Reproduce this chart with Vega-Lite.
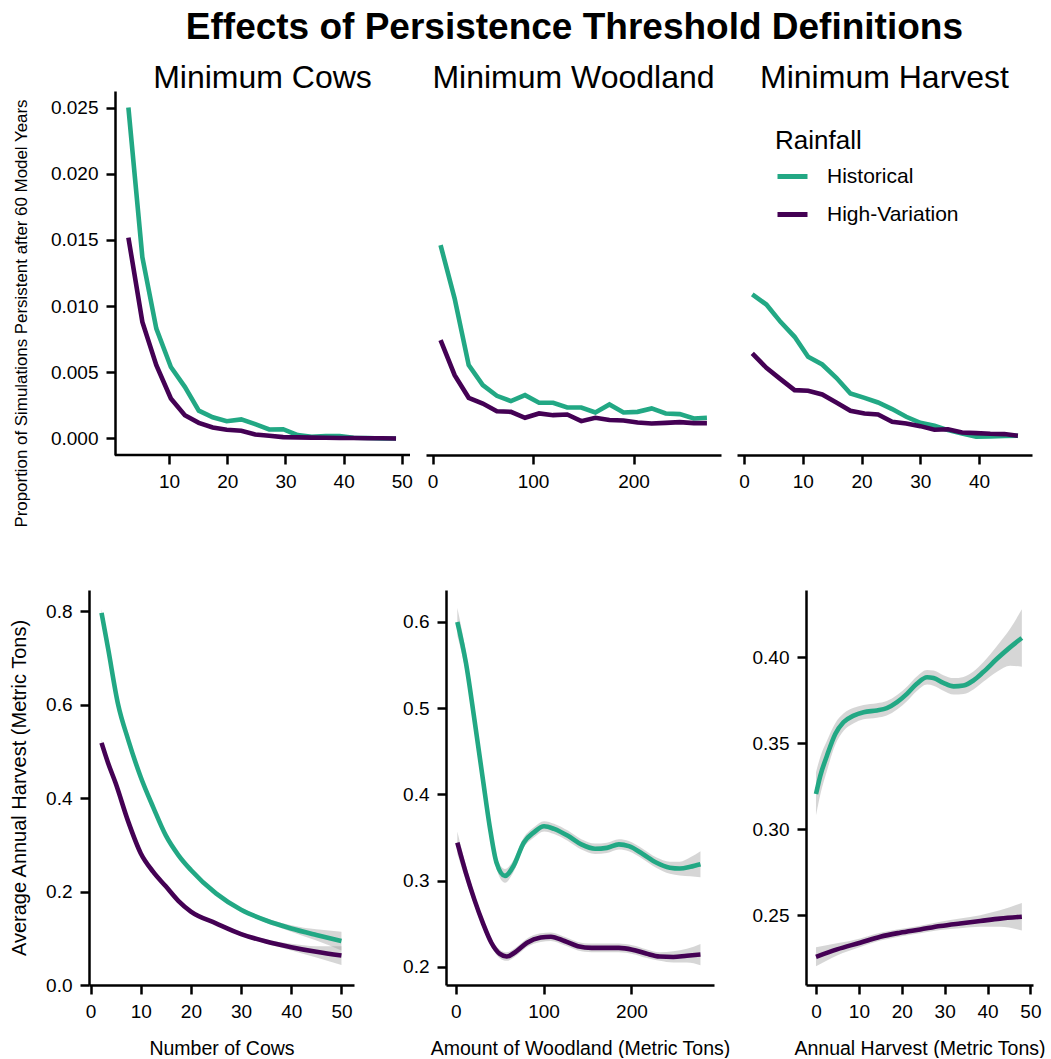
{
  "$schema": "https://vega.github.io/schema/vega-lite/v6.json",
  "padding": {"left": 9, "top": 9, "right": 10, "bottom": 0},
  "title": {"text": "Effects of Persistence Threshold Definitions", "fontSize": 37, "fontWeight": "bold", "anchor": "middle", "dx": 47, "offset": 15, "color": "black", "font": "Liberation Sans"},
  "config": {
    "font": "Liberation Sans",
    "view": {"stroke": null},
    "axis": {"grid": false, "domainColor": "black", "domainWidth": 2.5, "tickColor": "black", "tickWidth": 2.5, "tickSize": 9, "labelColor": "black", "labelFontSize": 19, "titleFontSize": 19.5, "titleFontWeight": "normal", "titleColor": "black", "labelPadding": 8, "labelFlush": false, "labelOverlap": false},
    "axisY": {"titlePadding": 18},
    "axisX": {"titlePadding": 18},
    "legend": {"orient": "none", "legendX": 686, "legendY": 37, "titleFontSize": 26, "titleFontWeight": "normal", "titleColor": "black", "labelFontSize": 21, "labelColor": "black", "symbolType": "stroke", "symbolStrokeWidth": 5, "symbolSize": 900, "labelOffset": 17, "rowPadding": 10, "titlePadding": 5}
  },
  "datasets": {
    "top": [
      {"panel": "cows", "rain": "Historical", "x": 3.0, "y": 0.0250},
      {"panel": "cows", "rain": "Historical", "x": 5.4, "y": 0.0137},
      {"panel": "cows", "rain": "Historical", "x": 7.8, "y": 0.0083},
      {"panel": "cows", "rain": "Historical", "x": 10.3, "y": 0.0054},
      {"panel": "cows", "rain": "Historical", "x": 12.7, "y": 0.0039},
      {"panel": "cows", "rain": "Historical", "x": 15.1, "y": 0.0021},
      {"panel": "cows", "rain": "Historical", "x": 17.5, "y": 0.0016},
      {"panel": "cows", "rain": "Historical", "x": 19.9, "y": 0.0013},
      {"panel": "cows", "rain": "Historical", "x": 22.4, "y": 0.00144},
      {"panel": "cows", "rain": "Historical", "x": 24.8, "y": 0.00108},
      {"panel": "cows", "rain": "Historical", "x": 27.2, "y": 0.00068},
      {"panel": "cows", "rain": "Historical", "x": 29.6, "y": 0.0007},
      {"panel": "cows", "rain": "Historical", "x": 32.1, "y": 0.00025},
      {"panel": "cows", "rain": "Historical", "x": 34.5, "y": 0.00013},
      {"panel": "cows", "rain": "Historical", "x": 36.9, "y": 0.00018},
      {"panel": "cows", "rain": "Historical", "x": 39.3, "y": 0.00018},
      {"panel": "cows", "rain": "Historical", "x": 41.7, "y": 0.00005},
      {"panel": "cows", "rain": "Historical", "x": 44.2, "y": 0.00003},
      {"panel": "cows", "rain": "Historical", "x": 46.6, "y": 0.0},
      {"panel": "cows", "rain": "Historical", "x": 49.0, "y": 0.0},
      {"panel": "cows", "rain": "High-Variation", "x": 3.0, "y": 0.01518},
      {"panel": "cows", "rain": "High-Variation", "x": 5.4, "y": 0.00881},
      {"panel": "cows", "rain": "High-Variation", "x": 7.8, "y": 0.00554},
      {"panel": "cows", "rain": "High-Variation", "x": 10.3, "y": 0.00302},
      {"panel": "cows", "rain": "High-Variation", "x": 12.7, "y": 0.00176},
      {"panel": "cows", "rain": "High-Variation", "x": 15.1, "y": 0.00118},
      {"panel": "cows", "rain": "High-Variation", "x": 17.5, "y": 0.00083},
      {"panel": "cows", "rain": "High-Variation", "x": 19.9, "y": 0.00066},
      {"panel": "cows", "rain": "High-Variation", "x": 22.4, "y": 0.00058},
      {"panel": "cows", "rain": "High-Variation", "x": 24.8, "y": 0.0003},
      {"panel": "cows", "rain": "High-Variation", "x": 27.2, "y": 0.0002},
      {"panel": "cows", "rain": "High-Variation", "x": 29.6, "y": 0.0001},
      {"panel": "cows", "rain": "High-Variation", "x": 32.1, "y": 0.00008},
      {"panel": "cows", "rain": "High-Variation", "x": 34.5, "y": 0.00006},
      {"panel": "cows", "rain": "High-Variation", "x": 36.9, "y": 0.00005},
      {"panel": "cows", "rain": "High-Variation", "x": 39.3, "y": 0.00004},
      {"panel": "cows", "rain": "High-Variation", "x": 41.7, "y": 0.00003},
      {"panel": "cows", "rain": "High-Variation", "x": 44.2, "y": 0.00002},
      {"panel": "cows", "rain": "High-Variation", "x": 46.6, "y": 0.00001},
      {"panel": "cows", "rain": "High-Variation", "x": 49.0, "y": 0.0},
      {"panel": "wood", "rain": "Historical", "x": 8, "y": 0.0146},
      {"panel": "wood", "rain": "Historical", "x": 22, "y": 0.01057},
      {"panel": "wood", "rain": "Historical", "x": 36, "y": 0.00554},
      {"panel": "wood", "rain": "Historical", "x": 50, "y": 0.00403},
      {"panel": "wood", "rain": "Historical", "x": 64, "y": 0.00322},
      {"panel": "wood", "rain": "Historical", "x": 78, "y": 0.00282},
      {"panel": "wood", "rain": "Historical", "x": 92, "y": 0.00327},
      {"panel": "wood", "rain": "Historical", "x": 106, "y": 0.0027},
      {"panel": "wood", "rain": "Historical", "x": 120, "y": 0.0027},
      {"panel": "wood", "rain": "Historical", "x": 134, "y": 0.00234},
      {"panel": "wood", "rain": "Historical", "x": 148, "y": 0.00234},
      {"panel": "wood", "rain": "Historical", "x": 162, "y": 0.00196},
      {"panel": "wood", "rain": "Historical", "x": 176, "y": 0.00257},
      {"panel": "wood", "rain": "Historical", "x": 190, "y": 0.00196},
      {"panel": "wood", "rain": "Historical", "x": 204, "y": 0.00201},
      {"panel": "wood", "rain": "Historical", "x": 218, "y": 0.00227},
      {"panel": "wood", "rain": "Historical", "x": 232, "y": 0.00189},
      {"panel": "wood", "rain": "Historical", "x": 246, "y": 0.00184},
      {"panel": "wood", "rain": "Historical", "x": 260, "y": 0.00151},
      {"panel": "wood", "rain": "Historical", "x": 273, "y": 0.00156},
      {"panel": "wood", "rain": "High-Variation", "x": 8, "y": 0.00743},
      {"panel": "wood", "rain": "High-Variation", "x": 22, "y": 0.00478},
      {"panel": "wood", "rain": "High-Variation", "x": 36, "y": 0.00307},
      {"panel": "wood", "rain": "High-Variation", "x": 50, "y": 0.00264},
      {"panel": "wood", "rain": "High-Variation", "x": 64, "y": 0.00206},
      {"panel": "wood", "rain": "High-Variation", "x": 78, "y": 0.00201},
      {"panel": "wood", "rain": "High-Variation", "x": 92, "y": 0.00156},
      {"panel": "wood", "rain": "High-Variation", "x": 106, "y": 0.00189},
      {"panel": "wood", "rain": "High-Variation", "x": 120, "y": 0.00176},
      {"panel": "wood", "rain": "High-Variation", "x": 134, "y": 0.00181},
      {"panel": "wood", "rain": "High-Variation", "x": 148, "y": 0.00131},
      {"panel": "wood", "rain": "High-Variation", "x": 162, "y": 0.00156},
      {"panel": "wood", "rain": "High-Variation", "x": 176, "y": 0.00139},
      {"panel": "wood", "rain": "High-Variation", "x": 190, "y": 0.00136},
      {"panel": "wood", "rain": "High-Variation", "x": 204, "y": 0.00121},
      {"panel": "wood", "rain": "High-Variation", "x": 218, "y": 0.00113},
      {"panel": "wood", "rain": "High-Variation", "x": 232, "y": 0.00118},
      {"panel": "wood", "rain": "High-Variation", "x": 246, "y": 0.00123},
      {"panel": "wood", "rain": "High-Variation", "x": 260, "y": 0.00116},
      {"panel": "wood", "rain": "High-Variation", "x": 273, "y": 0.00116},
      {"panel": "harv", "rain": "Historical", "x": 1.4, "y": 0.01088},
      {"panel": "harv", "rain": "Historical", "x": 3.8, "y": 0.01012},
      {"panel": "harv", "rain": "Historical", "x": 6.2, "y": 0.00881},
      {"panel": "harv", "rain": "Historical", "x": 8.6, "y": 0.00768},
      {"panel": "harv", "rain": "Historical", "x": 10.9, "y": 0.00617},
      {"panel": "harv", "rain": "Historical", "x": 13.3, "y": 0.00559},
      {"panel": "harv", "rain": "Historical", "x": 15.7, "y": 0.00458},
      {"panel": "harv", "rain": "Historical", "x": 18.1, "y": 0.0034},
      {"panel": "harv", "rain": "Historical", "x": 20.5, "y": 0.00307},
      {"panel": "harv", "rain": "Historical", "x": 22.8, "y": 0.00272},
      {"panel": "harv", "rain": "Historical", "x": 25.2, "y": 0.00222},
      {"panel": "harv", "rain": "Historical", "x": 27.6, "y": 0.00164},
      {"panel": "harv", "rain": "Historical", "x": 30.0, "y": 0.00118},
      {"panel": "harv", "rain": "Historical", "x": 32.4, "y": 0.00096},
      {"panel": "harv", "rain": "Historical", "x": 34.7, "y": 0.00063},
      {"panel": "harv", "rain": "Historical", "x": 37.1, "y": 0.00038},
      {"panel": "harv", "rain": "Historical", "x": 39.5, "y": 0.00013},
      {"panel": "harv", "rain": "Historical", "x": 41.9, "y": 0.00015},
      {"panel": "harv", "rain": "Historical", "x": 44.3, "y": 0.00018},
      {"panel": "harv", "rain": "Historical", "x": 46.6, "y": 0.0002},
      {"panel": "harv", "rain": "High-Variation", "x": 1.4, "y": 0.00642},
      {"panel": "harv", "rain": "High-Variation", "x": 3.8, "y": 0.00534},
      {"panel": "harv", "rain": "High-Variation", "x": 6.2, "y": 0.00448},
      {"panel": "harv", "rain": "High-Variation", "x": 8.6, "y": 0.00365},
      {"panel": "harv", "rain": "High-Variation", "x": 10.9, "y": 0.0036},
      {"panel": "harv", "rain": "High-Variation", "x": 13.3, "y": 0.00332},
      {"panel": "harv", "rain": "High-Variation", "x": 15.7, "y": 0.00272},
      {"panel": "harv", "rain": "High-Variation", "x": 18.1, "y": 0.00209},
      {"panel": "harv", "rain": "High-Variation", "x": 20.5, "y": 0.00189},
      {"panel": "harv", "rain": "High-Variation", "x": 22.8, "y": 0.00181},
      {"panel": "harv", "rain": "High-Variation", "x": 25.2, "y": 0.00126},
      {"panel": "harv", "rain": "High-Variation", "x": 27.6, "y": 0.00113},
      {"panel": "harv", "rain": "High-Variation", "x": 30.0, "y": 0.00093},
      {"panel": "harv", "rain": "High-Variation", "x": 32.4, "y": 0.00066},
      {"panel": "harv", "rain": "High-Variation", "x": 34.7, "y": 0.0007},
      {"panel": "harv", "rain": "High-Variation", "x": 37.1, "y": 0.00045},
      {"panel": "harv", "rain": "High-Variation", "x": 39.5, "y": 0.0004},
      {"panel": "harv", "rain": "High-Variation", "x": 41.9, "y": 0.00035},
      {"panel": "harv", "rain": "High-Variation", "x": 44.3, "y": 0.00033},
      {"panel": "harv", "rain": "High-Variation", "x": 46.6, "y": 0.0002}
    ],
    "bottom": [
      {"panel": "cows", "rain": "Historical", "x": 2.2, "y": 0.796, "lo": 0.788, "hi": 0.804},
      {"panel": "cows", "rain": "Historical", "x": 3.5, "y": 0.72, "lo": 0.714, "hi": 0.726},
      {"panel": "cows", "rain": "Historical", "x": 5.5, "y": 0.60, "lo": 0.595, "hi": 0.605},
      {"panel": "cows", "rain": "Historical", "x": 7.5, "y": 0.525, "lo": 0.521, "hi": 0.529},
      {"panel": "cows", "rain": "Historical", "x": 10, "y": 0.445, "lo": 0.441, "hi": 0.449},
      {"panel": "cows", "rain": "Historical", "x": 12.5, "y": 0.38, "lo": 0.376, "hi": 0.384},
      {"panel": "cows", "rain": "Historical", "x": 15, "y": 0.32, "lo": 0.316, "hi": 0.324},
      {"panel": "cows", "rain": "Historical", "x": 17.5, "y": 0.278, "lo": 0.274, "hi": 0.282},
      {"panel": "cows", "rain": "Historical", "x": 20, "y": 0.246, "lo": 0.242, "hi": 0.250},
      {"panel": "cows", "rain": "Historical", "x": 25, "y": 0.196, "lo": 0.192, "hi": 0.200},
      {"panel": "cows", "rain": "Historical", "x": 30, "y": 0.161, "lo": 0.157, "hi": 0.165},
      {"panel": "cows", "rain": "Historical", "x": 35, "y": 0.138, "lo": 0.133, "hi": 0.143},
      {"panel": "cows", "rain": "Historical", "x": 40, "y": 0.121, "lo": 0.114, "hi": 0.128},
      {"panel": "cows", "rain": "Historical", "x": 45, "y": 0.107, "lo": 0.095, "hi": 0.119},
      {"panel": "cows", "rain": "Historical", "x": 50, "y": 0.094, "lo": 0.074, "hi": 0.114},
      {"panel": "cows", "rain": "High-Variation", "x": 2.2, "y": 0.518, "lo": 0.511, "hi": 0.525},
      {"panel": "cows", "rain": "High-Variation", "x": 3.5, "y": 0.475, "lo": 0.470, "hi": 0.480},
      {"panel": "cows", "rain": "High-Variation", "x": 5, "y": 0.432, "lo": 0.428, "hi": 0.436},
      {"panel": "cows", "rain": "High-Variation", "x": 7.5, "y": 0.35, "lo": 0.346, "hi": 0.354},
      {"panel": "cows", "rain": "High-Variation", "x": 10, "y": 0.282, "lo": 0.278, "hi": 0.286},
      {"panel": "cows", "rain": "High-Variation", "x": 12.5, "y": 0.242, "lo": 0.238, "hi": 0.246},
      {"panel": "cows", "rain": "High-Variation", "x": 15, "y": 0.211, "lo": 0.207, "hi": 0.215},
      {"panel": "cows", "rain": "High-Variation", "x": 17.5, "y": 0.18, "lo": 0.176, "hi": 0.184},
      {"panel": "cows", "rain": "High-Variation", "x": 20, "y": 0.157, "lo": 0.153, "hi": 0.161},
      {"panel": "cows", "rain": "High-Variation", "x": 25, "y": 0.132, "lo": 0.128, "hi": 0.136},
      {"panel": "cows", "rain": "High-Variation", "x": 30, "y": 0.109, "lo": 0.105, "hi": 0.113},
      {"panel": "cows", "rain": "High-Variation", "x": 35, "y": 0.093, "lo": 0.088, "hi": 0.098},
      {"panel": "cows", "rain": "High-Variation", "x": 40, "y": 0.081, "lo": 0.074, "hi": 0.088},
      {"panel": "cows", "rain": "High-Variation", "x": 45, "y": 0.071, "lo": 0.059, "hi": 0.083},
      {"panel": "cows", "rain": "High-Variation", "x": 50, "y": 0.063, "lo": 0.043, "hi": 0.083},
      {"panel": "wood", "rain": "Historical", "x": 1.9, "y": 0.600, "lo": 0.584, "hi": 0.616},
      {"panel": "wood", "rain": "Historical", "x": 11.6, "y": 0.553, "lo": 0.541, "hi": 0.565},
      {"panel": "wood", "rain": "Historical", "x": 21.3, "y": 0.487, "lo": 0.478, "hi": 0.496},
      {"panel": "wood", "rain": "Historical", "x": 30.9, "y": 0.418, "lo": 0.410, "hi": 0.426},
      {"panel": "wood", "rain": "Historical", "x": 38.7, "y": 0.363, "lo": 0.356, "hi": 0.370},
      {"panel": "wood", "rain": "Historical", "x": 46.4, "y": 0.321, "lo": 0.314, "hi": 0.328},
      {"panel": "wood", "rain": "Historical", "x": 56.1, "y": 0.3055, "lo": 0.2975, "hi": 0.3135},
      {"panel": "wood", "rain": "Historical", "x": 65.8, "y": 0.317, "lo": 0.310, "hi": 0.324},
      {"panel": "wood", "rain": "Historical", "x": 77.4, "y": 0.344, "lo": 0.338, "hi": 0.350},
      {"panel": "wood", "rain": "Historical", "x": 89, "y": 0.356, "lo": 0.350, "hi": 0.362},
      {"panel": "wood", "rain": "Historical", "x": 100.6, "y": 0.363, "lo": 0.357, "hi": 0.369},
      {"panel": "wood", "rain": "Historical", "x": 112, "y": 0.360, "lo": 0.354, "hi": 0.366},
      {"panel": "wood", "rain": "Historical", "x": 127.7, "y": 0.352, "lo": 0.346, "hi": 0.358},
      {"panel": "wood", "rain": "Historical", "x": 143, "y": 0.342, "lo": 0.336, "hi": 0.348},
      {"panel": "wood", "rain": "Historical", "x": 158.6, "y": 0.337, "lo": 0.331, "hi": 0.343},
      {"panel": "wood", "rain": "Historical", "x": 172, "y": 0.338, "lo": 0.332, "hi": 0.344},
      {"panel": "wood", "rain": "Historical", "x": 185.7, "y": 0.342, "lo": 0.336, "hi": 0.348},
      {"panel": "wood", "rain": "Historical", "x": 197, "y": 0.340, "lo": 0.334, "hi": 0.346},
      {"panel": "wood", "rain": "Historical", "x": 212.8, "y": 0.331, "lo": 0.325, "hi": 0.337},
      {"panel": "wood", "rain": "Historical", "x": 228, "y": 0.321, "lo": 0.315, "hi": 0.327},
      {"panel": "wood", "rain": "Historical", "x": 243.7, "y": 0.315, "lo": 0.308, "hi": 0.322},
      {"panel": "wood", "rain": "Historical", "x": 255, "y": 0.314, "lo": 0.306, "hi": 0.322},
      {"panel": "wood", "rain": "Historical", "x": 267, "y": 0.316, "lo": 0.305, "hi": 0.327},
      {"panel": "wood", "rain": "Historical", "x": 278.5, "y": 0.319, "lo": 0.304, "hi": 0.334},
      {"panel": "wood", "rain": "High-Variation", "x": 1.9, "y": 0.344, "lo": 0.331, "hi": 0.357},
      {"panel": "wood", "rain": "High-Variation", "x": 11.6, "y": 0.309, "lo": 0.300, "hi": 0.318},
      {"panel": "wood", "rain": "High-Variation", "x": 21.3, "y": 0.278, "lo": 0.271, "hi": 0.285},
      {"panel": "wood", "rain": "High-Variation", "x": 30.9, "y": 0.251, "lo": 0.245, "hi": 0.257},
      {"panel": "wood", "rain": "High-Variation", "x": 40.6, "y": 0.228, "lo": 0.223, "hi": 0.233},
      {"panel": "wood", "rain": "High-Variation", "x": 50.3, "y": 0.215, "lo": 0.210, "hi": 0.220},
      {"panel": "wood", "rain": "High-Variation", "x": 58, "y": 0.212, "lo": 0.207, "hi": 0.217},
      {"panel": "wood", "rain": "High-Variation", "x": 67.7, "y": 0.217, "lo": 0.212, "hi": 0.222},
      {"panel": "wood", "rain": "High-Variation", "x": 81.2, "y": 0.228, "lo": 0.223, "hi": 0.233},
      {"panel": "wood", "rain": "High-Variation", "x": 96.7, "y": 0.234, "lo": 0.229, "hi": 0.239},
      {"panel": "wood", "rain": "High-Variation", "x": 108.3, "y": 0.235, "lo": 0.230, "hi": 0.240},
      {"panel": "wood", "rain": "High-Variation", "x": 123.8, "y": 0.230, "lo": 0.225, "hi": 0.235},
      {"panel": "wood", "rain": "High-Variation", "x": 139, "y": 0.224, "lo": 0.219, "hi": 0.229},
      {"panel": "wood", "rain": "High-Variation", "x": 154.7, "y": 0.222, "lo": 0.217, "hi": 0.227},
      {"panel": "wood", "rain": "High-Variation", "x": 170, "y": 0.222, "lo": 0.217, "hi": 0.227},
      {"panel": "wood", "rain": "High-Variation", "x": 185.7, "y": 0.222, "lo": 0.217, "hi": 0.227},
      {"panel": "wood", "rain": "High-Variation", "x": 201, "y": 0.220, "lo": 0.215, "hi": 0.225},
      {"panel": "wood", "rain": "High-Variation", "x": 216.6, "y": 0.2155, "lo": 0.2105, "hi": 0.2205},
      {"panel": "wood", "rain": "High-Variation", "x": 232, "y": 0.212, "lo": 0.207, "hi": 0.217},
      {"panel": "wood", "rain": "High-Variation", "x": 247.6, "y": 0.2115, "lo": 0.205, "hi": 0.218},
      {"panel": "wood", "rain": "High-Variation", "x": 263, "y": 0.213, "lo": 0.205, "hi": 0.221},
      {"panel": "wood", "rain": "High-Variation", "x": 278.5, "y": 0.2143, "lo": 0.202, "hi": 0.2266},
      {"panel": "harv", "rain": "Historical", "x": 0, "y": 0.3204, "lo": 0.308, "hi": 0.333},
      {"panel": "harv", "rain": "Historical", "x": 1, "y": 0.331, "lo": 0.320, "hi": 0.342},
      {"panel": "harv", "rain": "Historical", "x": 2.56, "y": 0.3427, "lo": 0.334, "hi": 0.3514},
      {"panel": "harv", "rain": "Historical", "x": 4.5, "y": 0.3553, "lo": 0.349, "hi": 0.3616},
      {"panel": "harv", "rain": "Historical", "x": 6.4, "y": 0.3621, "lo": 0.357, "hi": 0.3672},
      {"panel": "harv", "rain": "Historical", "x": 8.8, "y": 0.366, "lo": 0.3615, "hi": 0.3705},
      {"panel": "harv", "rain": "Historical", "x": 11.1, "y": 0.368, "lo": 0.3638, "hi": 0.3722},
      {"panel": "harv", "rain": "Historical", "x": 14.2, "y": 0.369, "lo": 0.3648, "hi": 0.3732},
      {"panel": "harv", "rain": "Historical", "x": 16.5, "y": 0.3703, "lo": 0.3661, "hi": 0.3745},
      {"panel": "harv", "rain": "Historical", "x": 18.9, "y": 0.3738, "lo": 0.3696, "hi": 0.378},
      {"panel": "harv", "rain": "Historical", "x": 21.2, "y": 0.3786, "lo": 0.3744, "hi": 0.3828},
      {"panel": "harv", "rain": "Historical", "x": 23.5, "y": 0.3845, "lo": 0.3803, "hi": 0.3887},
      {"panel": "harv", "rain": "Historical", "x": 25.9, "y": 0.3883, "lo": 0.3841, "hi": 0.3925},
      {"panel": "harv", "rain": "Historical", "x": 27.4, "y": 0.3878, "lo": 0.3834, "hi": 0.3922},
      {"panel": "harv", "rain": "Historical", "x": 29.7, "y": 0.385, "lo": 0.3805, "hi": 0.3895},
      {"panel": "harv", "rain": "Historical", "x": 32.1, "y": 0.383, "lo": 0.3782, "hi": 0.3878},
      {"panel": "harv", "rain": "Historical", "x": 34.4, "y": 0.3835, "lo": 0.3785, "hi": 0.3885},
      {"panel": "harv", "rain": "Historical", "x": 36.7, "y": 0.3864, "lo": 0.3812, "hi": 0.3916},
      {"panel": "harv", "rain": "Historical", "x": 39, "y": 0.3913, "lo": 0.3856, "hi": 0.397},
      {"panel": "harv", "rain": "Historical", "x": 42.2, "y": 0.399, "lo": 0.3915, "hi": 0.4065},
      {"panel": "harv", "rain": "Historical", "x": 45.3, "y": 0.4058, "lo": 0.395, "hi": 0.4166},
      {"panel": "harv", "rain": "Historical", "x": 48, "y": 0.4111, "lo": 0.3944, "hi": 0.4278},
      {"panel": "harv", "rain": "High-Variation", "x": 0, "y": 0.2258, "lo": 0.2203, "hi": 0.2313},
      {"panel": "harv", "rain": "High-Variation", "x": 4.9, "y": 0.2301, "lo": 0.2266, "hi": 0.2336},
      {"panel": "harv", "rain": "High-Variation", "x": 10.3, "y": 0.234, "lo": 0.2315, "hi": 0.2365},
      {"panel": "harv", "rain": "High-Variation", "x": 15, "y": 0.2375, "lo": 0.2352, "hi": 0.2398},
      {"panel": "harv", "rain": "High-Variation", "x": 19.6, "y": 0.2398, "lo": 0.2376, "hi": 0.242},
      {"panel": "harv", "rain": "High-Variation", "x": 24.3, "y": 0.2417, "lo": 0.2395, "hi": 0.2439},
      {"panel": "harv", "rain": "High-Variation", "x": 29, "y": 0.2437, "lo": 0.2413, "hi": 0.2461},
      {"panel": "harv", "rain": "High-Variation", "x": 33.6, "y": 0.2452, "lo": 0.2424, "hi": 0.248},
      {"panel": "harv", "rain": "High-Variation", "x": 38.3, "y": 0.2466, "lo": 0.2432, "hi": 0.25},
      {"panel": "harv", "rain": "High-Variation", "x": 42.9, "y": 0.248, "lo": 0.2432, "hi": 0.2528},
      {"panel": "harv", "rain": "High-Variation", "x": 48, "y": 0.2491, "lo": 0.2411, "hi": 0.2571}
    ]
  },
  "spacing": 62,
  "vconcat": [
    {
      "hconcat": [
        {
          "width": 321, "height": 364,
          "title": {"text": "Minimum Cows", "fontSize": 32, "fontWeight": "normal", "frame": "group", "anchor": "middle", "offset": -4, "dx": 13, "color": "black"},
          "layer": [
            {
              "data": {"name": "top"},
              "transform": [{"filter": "datum.panel === 'cows'"}],
              "mark": {"type": "line", "strokeWidth": 4.6, "clip": true},
              "encoding": {
                "x": {"field": "x", "type": "quantitative", "scale": {"domain": [-3.77, 51.4], "nice": false, "zero": false}, "axis": {"values": [10, 20, 30, 40, 50], "title": null, "domain": false}},
                "y": {"field": "y", "type": "quantitative", "scale": {"domain": [-0.00125, 0.02625], "nice": false, "zero": false}, "axis": {"values": [0, 0.005, 0.01, 0.015, 0.02, 0.025], "format": ".3f", "title": "Proportion of Simulations Persistent after 60 Model Years", "titleFontSize": 16.9, "titlePadding": 20, "titleY": 222, "offset": -26}},
                "color": {"field": "rain", "type": "nominal", "scale": {"domain": ["Historical", "High-Variation"], "range": ["#22A884", "#440154"]}, "title": "Rainfall"}
              }
            },
            {
              "data": {"values": [{}]},
              "mark": {"type": "rule", "color": "black", "strokeWidth": 2.5},
              "encoding": {
                "x": {"datum": 0.7, "type": "quantitative"},
                "x2": {"datum": 51.4},
                "y": {"datum": -0.00125, "type": "quantitative"}
              }
            }
          ]
        },
        {
          "width": 295, "height": 364,
          "title": {"text": "Minimum Woodland", "fontSize": 32, "fontWeight": "normal", "frame": "group", "anchor": "middle", "offset": -4, "color": "black"},
          "data": {"name": "top"},
          "transform": [{"filter": "datum.panel === 'wood'"}],
          "mark": {"type": "line", "strokeWidth": 4.6, "clip": true},
          "encoding": {
            "x": {"field": "x", "type": "quantitative", "scale": {"domain": [-6.5, 287], "nice": false, "zero": false}, "axis": {"values": [0, 100, 200], "title": null}},
            "y": {"field": "y", "type": "quantitative", "scale": {"domain": [-0.00125, 0.02625], "nice": false, "zero": false}, "axis": null},
            "color": {"field": "rain", "type": "nominal", "scale": {"domain": ["Historical", "High-Variation"], "range": ["#22A884", "#440154"]}, "title": "Rainfall"}
          }
        },
        {
          "width": 295, "height": 364,
          "title": {"text": "Minimum Harvest", "fontSize": 32, "fontWeight": "normal", "frame": "group", "anchor": "middle", "offset": -4, "color": "black"},
          "data": {"name": "top"},
          "transform": [{"filter": "datum.panel === 'harv'"}],
          "mark": {"type": "line", "strokeWidth": 4.6, "clip": true},
          "encoding": {
            "x": {"field": "x", "type": "quantitative", "scale": {"domain": [-1.2, 49.0], "nice": false, "zero": false}, "axis": {"values": [0, 10, 20, 30, 40], "title": null}},
            "y": {"field": "y", "type": "quantitative", "scale": {"domain": [-0.00125, 0.02625], "nice": false, "zero": false}, "axis": null},
            "color": {"field": "rain", "type": "nominal", "scale": {"domain": ["Historical", "High-Variation"], "range": ["#22A884", "#440154"]}, "title": "Rainfall"}
          }
        }
      ],
      "spacing": 16,
      "bounds": "flush"
    },
    {
      "hconcat": [
        {
          "width": 265, "height": 395,
          "data": {"name": "bottom"},
          "transform": [{"filter": "datum.panel === 'cows'"}],
          "layer": [
            {
              "mark": {"type": "area", "color": "#999999", "opacity": 0.4, "interpolate": "monotone"},
              "encoding": {
                "x": {"field": "x", "type": "quantitative", "scale": {"domain": [-0.3, 52.5], "nice": false, "zero": false}, "axis": {"values": [0, 10, 20, 30, 40, 50], "title": "Number of Cows"}},
                "y": {"field": "lo", "type": "quantitative", "scale": {"domain": [0, 0.845], "nice": false, "zero": false}, "axis": {"values": [0, 0.2, 0.4, 0.6, 0.8], "format": ".1f", "title": "Average Annual Harvest (Metric Tons)", "titleFontSize": 20, "titlePadding": 16}},
                "y2": {"field": "hi"},
                "detail": {"field": "rain"}
              }
            },
            {
              "mark": {"type": "line", "strokeWidth": 4.6, "interpolate": "monotone"},
              "encoding": {
                "x": {"field": "x", "type": "quantitative"},
                "y": {"field": "y", "type": "quantitative"},
                "color": {"field": "rain", "type": "nominal", "scale": {"domain": ["Historical", "High-Variation"], "range": ["#22A884", "#440154"]}, "title": "Rainfall"}
              }
            }
          ]
        },
        {
          "width": 268, "height": 395,
          "data": {"name": "bottom"},
          "transform": [{"filter": "datum.panel === 'wood'"}],
          "layer": [
            {
              "mark": {"type": "area", "color": "#999999", "opacity": 0.4, "interpolate": "monotone"},
              "encoding": {
                "x": {"field": "x", "type": "quantitative", "scale": {"domain": [-11, 293.9], "nice": false, "zero": false}, "axis": {"values": [0, 100, 200], "title": "Amount of Woodland (Metric Tons)"}},
                "y": {"field": "lo", "type": "quantitative", "scale": {"domain": [0.179, 0.637], "nice": false, "zero": false}, "axis": {"values": [0.2, 0.3, 0.4, 0.5, 0.6], "format": ".1f", "title": null}},
                "y2": {"field": "hi"},
                "detail": {"field": "rain"}
              }
            },
            {
              "mark": {"type": "line", "strokeWidth": 4.6, "interpolate": "monotone"},
              "encoding": {
                "x": {"field": "x", "type": "quantitative"},
                "y": {"field": "y", "type": "quantitative"},
                "color": {"field": "rain", "type": "nominal", "scale": {"domain": ["Historical", "High-Variation"], "range": ["#22A884", "#440154"]}, "title": "Rainfall"}
              }
            }
          ]
        },
        {
          "width": 227, "height": 395,
          "data": {"name": "bottom"},
          "transform": [{"filter": "datum.panel === 'harv'"}],
          "layer": [
            {
              "mark": {"type": "area", "color": "#999999", "opacity": 0.4, "interpolate": "monotone"},
              "encoding": {
                "x": {"field": "x", "type": "quantitative", "scale": {"domain": [-2.33, 50.6], "nice": false, "zero": false}, "axis": {"values": [0, 10, 20, 30, 40, 50], "title": "Annual Harvest (Metric Tons)"}},
                "y": {"field": "lo", "type": "quantitative", "scale": {"domain": [0.2094, 0.439], "nice": false, "zero": false}, "axis": {"values": [0.25, 0.3, 0.35, 0.4], "format": ".2f", "title": null}},
                "y2": {"field": "hi"},
                "detail": {"field": "rain"}
              }
            },
            {
              "mark": {"type": "line", "strokeWidth": 4.6, "interpolate": "monotone"},
              "encoding": {
                "x": {"field": "x", "type": "quantitative"},
                "y": {"field": "y", "type": "quantitative"},
                "color": {"field": "rain", "type": "nominal", "scale": {"domain": ["Historical", "High-Variation"], "range": ["#22A884", "#440154"]}, "title": "Rainfall"}
              }
            }
          ]
        }
      ],
      "spacing": 92,
      "bounds": "flush"
    }
  ]
}
